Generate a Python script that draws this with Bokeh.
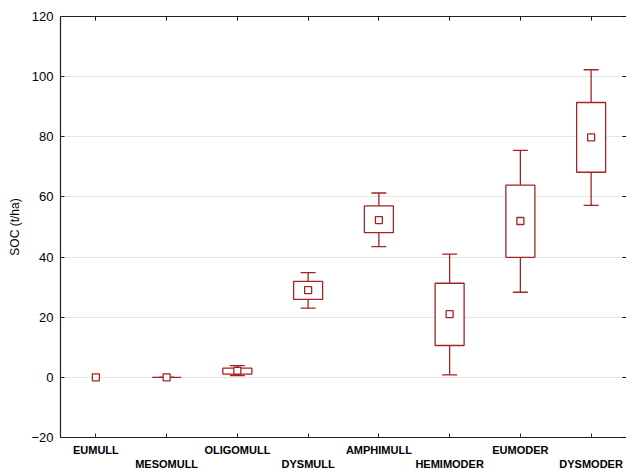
import numpy as np
from bokeh.plotting import figure
from bokeh.models import ColumnDataSource, Range1d, LinearAxis, FixedTicker
from bokeh.embed import file_html
from bokeh.resources import INLINE

nan = np.nan
categories = ["EUMULL", "MESOMULL", "OLIGOMULL", "DYSMULL", "AMPHIMULL", "HEMIMODER", "EUMODER", "DYSMODER"]
mean_vals = [0.0, 0.0, 2.2, 29.0, 52.3, 21.0, 52.0, 79.8]
box_lo = [nan, 0.0, 1.1, 25.9, 48.1, 10.6, 39.9, 68.2]
box_hi = [nan, 0.0, 3.1, 31.9, 57.0, 31.3, 63.9, 91.4]
whisk_lo = [nan, 0.0, 0.6, 23.0, 43.5, 0.8, 28.3, 57.2]
whisk_hi = [nan, 0.0, 3.9, 34.8, 61.3, 41.0, 75.5, 102.3]
y_ticks = [-20, 0, 20, 40, 60, 80, 100, 120]

RED = "#A32424"
FONT = "Liberation Sans"

xs = list(range(len(categories)))
src = ColumnDataSource(dict(x=xs, mean=mean_vals, blo=box_lo, bhi=box_hi,
                            wlo=whisk_lo, whi=whisk_hi, cat=categories))

p = figure(width=626, height=472, output_backend="svg", toolbar_location=None,
           x_range=Range1d(-0.5, len(categories) - 0.5), y_range=Range1d(-20, 120),
           min_border_left=60, min_border_right=0, min_border_top=16, min_border_bottom=34)
p.outline_line_color = None
p.background_fill_color = "white"
p.border_fill_color = "white"

# grid
p.xgrid.visible = False
p.ygrid.ticker = FixedTicker(ticks=y_ticks)
p.ygrid.grid_line_color = "#e6e6e6"
p.ygrid.grid_line_width = 1

# whiskers
p.segment(x0="x", y0="wlo", x1="x", y1="bhi", source=src, line_color=RED, line_width=1.3)
p.segment(x0="x", y0="whi", x1="x", y1="bhi", source=src, line_color=RED, line_width=1.3)
p.scatter(x="x", y="whi", source=src, marker="dash", size=15, line_color=RED, line_width=1.3)
p.scatter(x="x", y="wlo", source=src, marker="dash", size=15, line_color=RED, line_width=1.3)
# boxes
p.vbar(x="x", bottom="blo", top="bhi", width=0.41, source=src,
       fill_color="white", line_color=RED, line_width=1.3)
# mean markers
p.scatter(x="x", y="mean", source=src, marker="square", size=7,
          fill_color="white", line_color=RED, line_width=1.3)

# axes
xa = p.xaxis[0]
xa.ticker = FixedTicker(ticks=xs)
xa.major_label_overrides = {i: (c if i % 2 == 0 else "\n" + c) for i, c in enumerate(categories)}
ya = p.yaxis[0]
ya.ticker = FixedTicker(ticks=y_ticks)
ya.axis_label = "SOC (t/ha)"

for ax in (xa, ya):
    ax.axis_line_color = "#222222"
    ax.axis_line_width = 1.2
    ax.major_tick_in = 4
    ax.major_tick_out = 0
    ax.minor_tick_line_color = None
    ax.major_tick_line_color = "#222222"
    ax.major_label_text_font = FONT
    ax.major_label_text_color = "black"

xa.major_label_text_font_size = "11px"
xa.major_label_text_font_style = "bold"
xa.major_label_standoff = 6
ya.major_label_text_font_size = "13px"
ya.major_label_standoff = 7
ya.axis_label_text_font = FONT
ya.axis_label_text_font_size = "12px"
ya.axis_label_text_font_style = "normal"
ya.axis_label_text_color = "black"
ya.axis_label_standoff = 6

top = LinearAxis(ticker=FixedTicker(ticks=xs),
                 major_label_overrides={i: "" for i in xs},
                 major_tick_in=4, major_tick_out=0, minor_tick_line_color=None,
                 axis_line_color="#222222", axis_line_width=1.2, major_label_standoff=0)
p.add_layout(top, "above")
right = LinearAxis(ticker=FixedTicker(ticks=y_ticks),
                   major_label_overrides={t: "" for t in y_ticks},
                   major_tick_in=4, major_tick_out=0, minor_tick_line_color=None,
                   axis_line_color=None, major_label_standoff=0)
p.add_layout(right, "right")

open("out.html", "w").write(file_html(p, INLINE))
